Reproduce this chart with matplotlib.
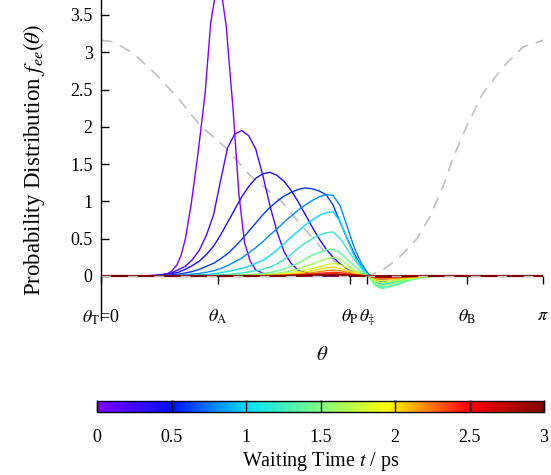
import numpy as np
import matplotlib
matplotlib.use('Agg')
import matplotlib.pyplot as plt
from matplotlib.colors import LinearSegmentedColormap, Normalize
from matplotlib.cm import ScalarMappable
from matplotlib.ticker import FormatStrFormatter

plt.rcParams['font.family'] = 'Liberation Serif'
plt.rcParams['mathtext.fontset'] = 'stix'

PI = np.pi

# characteristic angles (ticks on the theta axis)
theta_ticks = [0.0, 0.832, 1.770, 1.891, 2.601, PI]
theta_labels = [r'$\theta_{\rm T}$=0', r'$\theta_{\rm A}$', r'$\theta_{\rm P}$',
                r'$\theta_{\ddagger}$', r'$\theta_{\rm B}$', r'$\pi$']

# potential curve (gray dashed)
pot_theta = [0.0, 0.085, 0.227, 0.398, 0.540, 0.704, 0.881, 1.059, 1.294, 1.393, 1.578,
             1.677, 1.770, 1.891, 1.983, 2.054, 2.147, 2.246, 2.339, 2.431, 2.502,
             2.609, 2.715, 2.857, 2.999, PI]
pot_vals = [3.16, 3.14, 2.99, 2.69, 2.40, 2.02, 1.73, 1.35, 0.98, 0.75, 0.35,
            0.17, 0.05, 0.0, 0.06, 0.15, 0.30, 0.50, 0.80, 1.20, 1.58,
            2.05, 2.45, 2.80, 3.07, 3.16]

# waiting times (ps)
times = [0.0, 0.2, 0.4, 0.6, 0.8, 1.0, 1.2, 1.4, 1.6, 1.8, 2.0, 2.2, 2.4, 2.6, 2.8, 3.0]

# t = 0 and t = 0.2 are narrow, sampled on their own grids
theta_t00 = [0.0, 0.40, 0.46, 0.50, 0.54, 0.57, 0.60, 0.64, 0.69, 0.74, 0.78, 0.82,
             0.86, 0.89, 0.94, 0.98, 1.02, 1.06, 1.10, 1.16, 1.25, PI]
f_t00 = [0, 0, 0.02, 0.06, 0.15, 0.28, 0.5, 0.95, 1.65, 2.45, 3.4, 3.85,
         3.75, 3.35, 2.2, 1.1, 0.45, 0.2, 0.08, 0.03, 0.0, 0]

theta_t02 = [0.0, 0.3, 0.4, 0.5, 0.6, 0.65, 0.7, 0.75, 0.8, 0.85, 0.9, 0.95, 1.0, 1.05,
             1.1, 1.15, 1.2, 1.25, 1.3, 1.35, 1.4, 1.5, 1.6, 1.9, 2.0, 2.2, PI]
f_t02 = [0, 0, 0.01, 0.04, 0.13, 0.22, 0.35, 0.55, 0.82, 1.28, 1.72, 1.9, 1.95, 1.88,
         1.7, 1.35, 0.95, 0.6, 0.33, 0.17, 0.08, 0.02, 0.0, 0.0, -0.01, 0.0, 0]

# fine grid for the large curves, t = 0.4 ... 1.2
theta_fine = [0.0, 0.3, 0.35, 0.4, 0.45, 0.5, 0.55, 0.6, 0.65, 0.7, 0.75,
              0.8, 0.85, 0.9, 0.95, 1.0, 1.05, 1.1, 1.15, 1.2, 1.25,
              1.3, 1.35, 1.4, 1.45, 1.5, 1.55, 1.6, 1.65, 1.7, 1.75,
              1.8, 1.85, 1.9, 1.95, 2.0, 2.05, 2.1, 2.15, 2.2, 2.3, 2.4, PI]
f_t04 = [0, 0, 0.005, 0.01, 0.02, 0.03, 0.05, 0.09, 0.14, 0.2, 0.29,
         0.4, 0.55, 0.72, 0.89, 1.06, 1.2, 1.31, 1.37, 1.39, 1.35,
         1.27, 1.15, 1.0, 0.83, 0.66, 0.5, 0.36, 0.25, 0.16, 0.1,
         0.06, 0.03, 0.01, -0.01, -0.02, -0.02, -0.015, -0.01, -0.005, 0, 0, 0]
f_t06 = [0, 0, 0.002, 0.005, 0.01, 0.015, 0.025, 0.04, 0.06, 0.09, 0.13,
         0.17, 0.23, 0.3, 0.39, 0.49, 0.6, 0.71, 0.82, 0.92, 1.0,
         1.07, 1.12, 1.16, 1.18, 1.17, 1.14, 1.09, 0.95, 0.72, 0.5,
         0.3, 0.13, 0.02, -0.04, -0.05, -0.045, -0.035, -0.025, -0.015, -0.005, 0, 0]
f_t08 = [0, 0, 0, 0.002, 0.003, 0.005, 0.01, 0.015, 0.025, 0.035, 0.05,
         0.07, 0.1, 0.14, 0.19, 0.24, 0.31, 0.38, 0.46, 0.55, 0.63,
         0.72, 0.8, 0.88, 0.95, 1.01, 1.06, 1.09, 1.08, 0.94, 0.66,
         0.38, 0.17, 0.03, -0.06, -0.08, -0.075, -0.06, -0.04, -0.025, -0.008, 0, 0]
f_t10 = [0, 0, 0, 0, 0, 0.002, 0.003, 0.005, 0.01, 0.015, 0.02,
         0.03, 0.045, 0.06, 0.08, 0.1, 0.13, 0.17, 0.21, 0.27, 0.35,
         0.43, 0.52, 0.6, 0.68, 0.75, 0.81, 0.85, 0.86, 0.73, 0.49,
         0.27, 0.12, 0.01, -0.09, -0.11, -0.1, -0.08, -0.055, -0.035, -0.01, 0, 0]
f_t12 = [0, 0, 0, 0, 0, 0, 0, 0.002, 0.003, 0.005, 0.007,
         0.01, 0.015, 0.02, 0.03, 0.04, 0.055, 0.07, 0.09, 0.12, 0.16,
         0.22, 0.29, 0.37, 0.44, 0.5, 0.55, 0.58, 0.59, 0.5, 0.36,
         0.22, 0.1, 0.0, -0.12, -0.15, -0.14, -0.11, -0.08, -0.05, -0.015, 0, 0]

# coarser grid for the small curves
theta_grid = [0.0, 0.3, 0.4, 0.5, 0.6, 0.7, 0.8, 0.9, 1.0, 1.1, 1.2, 1.3, 1.4, 1.5, 1.6,
              1.65, 1.7, 1.75, 1.8, 1.85, 1.9, 1.95, 2.0, 2.1, 2.2, 2.3, 2.4, PI]
f_t14 = [0, 0, 0, 0, 0, 0, 0.005, 0.01, 0.015, 0.025, 0.045, 0.09, 0.17, 0.28, 0.35,
         0.36, 0.31, 0.22, 0.14, 0.06, 0.0, -0.13, -0.17, -0.12, -0.055, -0.015, 0, 0]
f_t16 = [0, 0, 0, 0, 0, 0, 0, 0.005, 0.01, 0.015, 0.025, 0.05, 0.09, 0.16, 0.23,
         0.25, 0.22, 0.15, 0.08, 0.03, 0.0, -0.1, -0.13, -0.09, -0.04, -0.01, 0, 0]
f_t18 = [0, 0, 0, 0, 0, 0, 0, 0, 0.005, 0.01, 0.015, 0.03, 0.06, 0.1, 0.15,
         0.17, 0.15, 0.11, 0.06, 0.02, 0, -0.07, -0.09, -0.06, -0.03, -0.01, 0, 0]
f_t20 = [0, 0, 0, 0, 0, 0, 0, 0, 0, 0.005, 0.01, 0.02, 0.04, 0.07, 0.11,
         0.12, 0.1, 0.07, 0.04, 0.015, 0, -0.05, -0.06, -0.04, -0.02, -0.005, 0, 0]
f_t22 = [0, 0, 0, 0, 0, 0, 0, 0, 0, 0, 0.005, 0.012, 0.025, 0.045, 0.07,
         0.08, 0.07, 0.05, 0.025, 0.01, 0, -0.03, -0.04, -0.03, -0.012, -0.003, 0, 0]
f_t24 = [0, 0, 0, 0, 0, 0, 0, 0, 0, 0, 0, 0.007, 0.015, 0.028, 0.044,
         0.05, 0.044, 0.031, 0.016, 0.006, 0, -0.02, -0.025, -0.018, -0.008, -0.002, 0, 0]
f_t26 = [0, 0, 0, 0, 0, 0, 0, 0, 0, 0, 0, 0.004, 0.009, 0.017, 0.026,
         0.03, 0.026, 0.018, 0.01, 0.004, 0, -0.012, -0.015, -0.011, -0.005, -0.001, 0, 0]
f_t28 = [0, 0, 0, 0, 0, 0, 0, 0, 0, 0, 0, 0.002, 0.005, 0.009, 0.014,
         0.016, 0.014, 0.01, 0.005, 0.002, 0, -0.006, -0.008, -0.006, -0.003, 0, 0, 0]
f_t30 = [0, 0, 0, 0, 0, 0, 0, 0, 0, 0, 0, 0.001, 0.003, 0.005, 0.007,
         0.008, 0.007, 0.005, 0.003, 0.001, 0, -0.003, -0.004, -0.003, -0.001, 0, 0, 0]

curves = [(theta_t00, f_t00), (theta_t02, f_t02)] + \
         [(theta_fine, f) for f in [f_t04, f_t06, f_t08, f_t10, f_t12]] + \
         [(theta_grid, f) for f in [f_t14, f_t16, f_t18, f_t20, f_t22, f_t24,
                                    f_t26, f_t28, f_t30]]

cmap = LinearSegmentedColormap.from_list('wt', [
    (0.0, '#8000ff'), (0.5 / 3, '#0010ff'), (1.0 / 3, '#00e0ff'), (1.5 / 3, '#80ff80'),
    (1.95 / 3, '#ffff00'), (2.5 / 3, '#ff0000'), (1.0, '#800000')])
norm = Normalize(0, 3)

fig = plt.figure(figsize=(5.51, 4.75), dpi=100)
ax = fig.add_axes([101 / 551, 155 / 475, 442 / 551, 320 / 475])

ax.plot(pot_theta, pot_vals, color='#c0c0c0', lw=1.2, dashes=(7, 5), zorder=1)

for t, (th, f) in zip(times, curves):
    lw = 1.6 if t == times[-1] else 1.0
    ax.plot(th, f, color=cmap(norm(t)), lw=lw, zorder=2)

ax.axhline(0, color='#c0c0c0', lw=1.0, dashes=(7, 12), zorder=3)

# ticks on the theta axis sit on f = 0
ax.plot(theta_ticks, [0] * len(theta_ticks), ls='none', marker=3, ms=6, mew=1.0,
        color='k', zorder=4, clip_on=False)

ax.set_xlim(0, PI)
ax.set_ylim(-0.59, 3.70)
for s in ['top', 'right', 'bottom']:
    ax.spines[s].set_visible(False)
ax.spines['left'].set_linewidth(1.0)

ax.set_yticks(np.arange(0, 3.51, 0.5))
ax.yaxis.set_major_formatter(FormatStrFormatter('%g'))
ax.tick_params(axis='y', direction='in', length=6, width=1.0, labelsize=13, pad=6)
ax.set_xticks(theta_ticks)
ax.set_xticklabels(theta_labels)
ax.tick_params(axis='x', length=0, labelsize=13, pad=-9)

ax.set_ylabel(r'Probability Distribution $f_{ee}(\theta)$', fontsize=16.5, labelpad=17)
ax.text(0.5, -0.11, r'$\theta$', transform=ax.transAxes, fontsize=15,
        ha='center', va='center')

cax = fig.add_axes([97 / 551, 63 / 475, 447 / 551, 11.5 / 475])
sm = ScalarMappable(norm=norm, cmap=cmap)
cb = fig.colorbar(sm, cax=cax, orientation='horizontal')
cb.set_ticks(np.arange(0, 3.01, 0.5))
cb.ax.xaxis.set_major_formatter(FormatStrFormatter('%g'))
cb.ax.tick_params(direction='in', length=8.5, width=1.0, color='k', labelsize=13, pad=12)
cb.outline.set_linewidth(1.0)
cb.set_label(r'Waiting Time $t$ / ps', fontsize=14.5, labelpad=3)

fig.savefig('out.png', dpi=100)
